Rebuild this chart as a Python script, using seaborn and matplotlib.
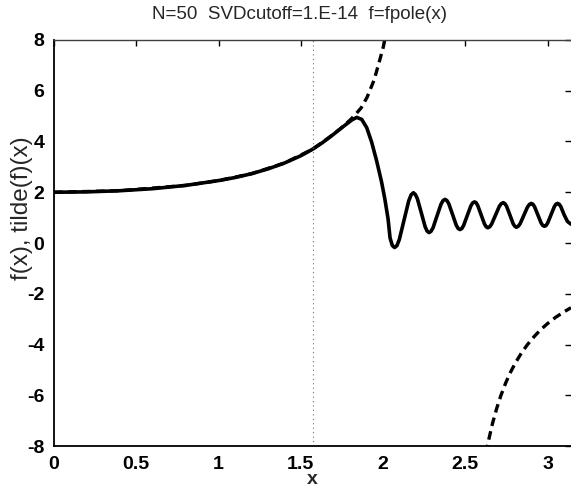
import numpy as np
import pandas as pd
import matplotlib
matplotlib.use("Agg")
import matplotlib.pyplot as plt
import seaborn as sns

# ---- data ----
approx_x = [0.00, 0.20, 0.40, 0.60, 0.80, 1.00, 1.10, 1.20, 1.30, 1.40, 1.50, 1.57, 1.63,
            1.69, 1.74, 1.78, 1.81, 1.84, 1.87, 1.90, 1.93, 1.96, 1.99, 2.01, 2.03, 2.042,
            2.056, 2.07, 2.084, 2.0985, 2.127, 2.1555, 2.17, 2.184, 2.196, 2.2078, 2.2315,
            2.2553, 2.267, 2.279, 2.291, 2.3033, 2.3275, 2.3518, 2.364, 2.376, 2.388, 2.3988,
            2.4215, 2.4443, 2.456, 2.467, 2.478, 2.489, 2.511, 2.533, 2.544, 2.555, 2.565,
            2.5753, 2.5955, 2.6158, 2.626, 2.636, 2.648, 2.6595, 2.683, 2.7065, 2.718, 2.73,
            2.74, 2.75, 2.77, 2.79, 2.80, 2.81, 2.821, 2.8325, 2.855, 2.8775, 2.889, 2.90,
            2.91, 2.92, 2.94, 2.96, 2.97, 2.98, 2.99, 3.00, 3.02, 3.04, 3.05, 3.06, 3.07,
            3.08, 3.10, 3.12, 3.1416]
approx_y = [2.00, 2.015, 2.06, 2.14, 2.27, 2.46, 2.58, 2.73, 2.92, 3.15, 3.44, 3.69, 3.95,
            4.24, 4.50, 4.70, 4.85, 4.95, 4.87, 4.55, 3.98, 3.25, 2.42, 1.75, 0.95, 0.20,
            -0.10, -0.18, -0.10, 0.14, 0.90, 1.66, 1.90, 1.98, 1.91, 1.75, 1.20,
            0.64, 0.47, 0.41, 0.46, 0.60, 1.07, 1.53, 1.67, 1.72, 1.67, 1.55,
            1.13, 0.70, 0.57, 0.53, 0.57, 0.69, 1.08, 1.46, 1.58, 1.62, 1.59,
            1.47, 1.11, 0.75, 0.64, 0.60, 0.64, 0.75, 1.10, 1.45, 1.55, 1.59,
            1.55, 1.45, 1.11, 0.76, 0.66, 0.62, 0.66, 0.76, 1.09, 1.42, 1.52, 1.56,
            1.53, 1.43, 1.11, 0.79, 0.69, 0.66, 0.69, 0.79, 1.11, 1.43, 1.53, 1.56, 1.53,
            1.43, 1.11, 0.85, 0.74]

true_x_left = [0.00, 0.40, 0.80, 1.00, 1.20, 1.40, 1.57, 1.67, 1.74, 1.80, 1.83, 1.867,
               1.903, 1.945, 1.976, 2.00, 2.02]
true_y_left = [2.00, 2.06, 2.27, 2.46, 2.73, 3.15, 3.69, 4.15, 4.50, 4.85, 5.05, 5.33,
               5.75, 6.42, 7.13, 7.70, 8.30]
true_x_right = [2.625, 2.64, 2.665, 2.69, 2.715, 2.745, 2.775, 2.805, 2.84, 2.875, 2.92,
                2.96, 3.00, 3.05, 3.10, 3.1416]
true_y_right = [-8.29, -7.80, -7.10, -6.52, -6.02, -5.51, -5.08, -4.71, -4.34, -4.02, -3.67,
                -3.40, -3.17, -2.92, -2.71, -2.55]

x_ticks = [0, 0.5, 1, 1.5, 2, 2.5, 3]
x_tick_labels = ["0", "0.5", "1", "1.5", "2", "2.5", "3"]
y_ticks = [-8, -6, -4, -2, 0, 2, 4, 6, 8]
title_text = "N=50  SVDcutoff=1.E-14  f=fpole(x)"
x_label = "x"
y_label = "f(x), tilde(f)(x)"

sns.set_theme(style="white")
plt.rcParams["font.family"] = ["Liberation Sans", "DejaVu Sans"]

fig = plt.figure(figsize=(5.71, 4.90), dpi=100)
ax = fig.add_axes([54 / 571, 44 / 490, 1.0 - 54 / 571, 406 / 490])

df_a = pd.DataFrame({"x": approx_x, "y": approx_y})
df_l = pd.DataFrame({"x": true_x_left, "y": true_y_left})
df_r = pd.DataFrame({"x": true_x_right, "y": true_y_right})

sns.lineplot(data=df_l, x="x", y="y", ax=ax, color="black", lw=2.4,
             linestyle=(0, (2.6, 1.6)), estimator=None, sort=False)
sns.lineplot(data=df_r, x="x", y="y", ax=ax, color="black", lw=2.4,
             linestyle=(0, (2.6, 1.6)), estimator=None, sort=False)
sns.lineplot(data=df_a, x="x", y="y", ax=ax, color="black", lw=2.6,
             estimator=None, sort=False)

ax.axvline(np.pi / 2, color="0.45", lw=0.8, linestyle=(0, (1, 3)))

ax.set_xlim(0, np.pi)
ax.set_ylim(-8, 8)
ax.set_xticks(x_ticks)
ax.set_xticklabels(x_tick_labels)
ax.set_yticks(y_ticks)
ax.set_yticklabels([str(v) for v in y_ticks])

ax.tick_params(direction="in", length=4, width=1, colors="black",
               top=True, right=True, labelsize=14, pad=7)
for lab in ax.get_xticklabels() + ax.get_yticklabels():
    lab.set_fontweight("bold")

for s in ["left", "bottom"]:
    ax.spines[s].set_color("black")
    ax.spines[s].set_linewidth(1.3)
ax.spines["right"].set_visible(False)
ax.spines["top"].set_color("0.25")
ax.spines["top"].set_linewidth(1.0)
ax.spines["top"].set_linestyle((0, (1, 1)))

ax.set_title(title_text, fontsize=13.5, pad=15, x=0.474)
ax.set_xlabel(x_label, fontsize=14, fontweight="bold", labelpad=-1)
ax.set_ylabel(y_label, fontsize=17.5)
ax.yaxis.set_label_coords(-0.040, 0.585)
ax.grid(False)

fig.savefig("out.png", dpi=100)
